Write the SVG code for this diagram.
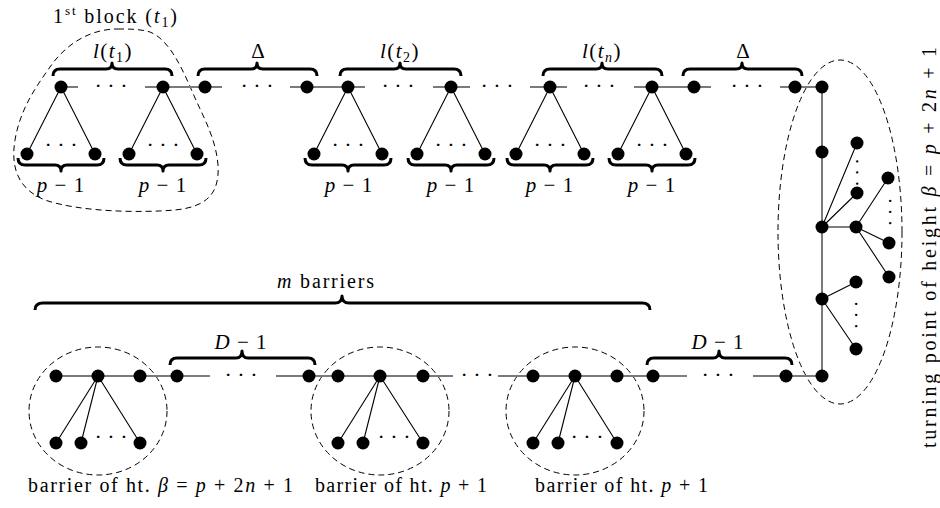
<svg xmlns="http://www.w3.org/2000/svg" width="940" height="508" viewBox="0 0 940 508">
<rect width="940" height="508" fill="#fff"/>
<g id="dashed-outlines" stroke="#000" stroke-width="1" fill="none" stroke-dasharray="6 4">
<path d="M120,29 C90,28 65,45 50,67 C35,88 20,110 15,140 C10,170 20,190 45,200 C80,212 140,213 175,210 C205,207 220,195 218,165 C216,140 205,120 195,98 C183,70 170,40 150,32 C140,29 130,29 120,29 Z"/>
<ellipse cx="840" cy="232" rx="62" ry="172"/>
<ellipse cx="98" cy="411" rx="69" ry="64"/>
<ellipse cx="380" cy="411" rx="69" ry="64"/>
<ellipse cx="575" cy="411" rx="69" ry="64"/>
</g>
<g id="connectors" fill="none">
<path stroke="#7a7a7a" stroke-width="2" d="M61,87H78 M145,87H222 M290,87H365 M433,87H470 M530,87H567 M634,87H711 M780,87H822 M822,87V376 M56,376H177 M276,376H453 M498,376H653 M753,376H822"/>
<g stroke="#000" stroke-width="1.1">
<path d="M177,376H210 M653,376H687"/>
<path d="M61,87L27,154M61,87L95,154 M163,87L129,154M163,87L197,154 M348,87L314,154M348,87L382,154 M451,87L417,154M451,87L485,154 M550,87L516,154M550,87L584,154 M652,87L618,154M652,87L686,154"/>
<path d="M98,376L56,443M98,376L81,443M98,376L140,443 M380,376L338,443M380,376L363,443M380,376L423,443 M575,376L533,443M575,376L558,443M575,376L617,443"/>
<path d="M822,227L857,143M822,227L857,193M822,227H856 M856,227L888,178M856,227L889,243M856,227L889,277 M822,299L856,282M822,299L856,349"/>
</g>
</g>
<g id="braces" stroke="#000" stroke-width="3" fill="none" stroke-linejoin="round">
<path d="M53,76Q53,69 60,69L106,69Q112,69 112,63Q112,69 118,69L165,69Q172,69 172,76"/>
<path d="M198,76Q198,69 205,69L251,69Q257,69 257,63Q257,69 263,69L310,69Q317,69 317,76"/>
<path d="M340,76Q340,69 347,69L394,69Q400,69 400,63Q400,69 406,69L454,69Q461,69 461,76"/>
<path d="M543,76Q543,69 550,69L596,69Q602,69 602,63Q602,69 608,69L655,69Q662,69 662,76"/>
<path d="M683,76Q683,69 690,69L736,69Q742,69 742,63Q742,69 748,69L795,69Q802,69 802,76"/>
<path d="M18,158Q18,165 25,165L55,165Q61,165 61,171Q61,165 67,165L97,165Q104,165 104,158"/>
<path d="M120,158Q120,165 127,165L157,165Q163,165 163,171Q163,165 169,165L199,165Q206,165 206,158"/>
<path d="M305,158Q305,165 312,165L342,165Q348,165 348,171Q348,165 354,165L384,165Q391,165 391,158"/>
<path d="M408,158Q408,165 415,165L445,165Q451,165 451,171Q451,165 457,165L487,165Q494,165 494,158"/>
<path d="M507,158Q507,165 514,165L544,165Q550,165 550,171Q550,165 556,165L586,165Q593,165 593,158"/>
<path d="M609,158Q609,165 616,165L646,165Q652,165 652,171Q652,165 658,165L688,165Q695,165 695,158"/>
<path d="M170,365Q170,358 177,358L236,358Q242,358 242,351Q242,358 248,358L308,358Q315,358 315,365"/>
<path d="M647,365Q647,358 654,358L713,358Q719,358 719,351Q719,358 725,358L785,358Q792,358 792,365"/>
<path d="M35,310Q35,303 43,303L335,303Q342,303 342,296Q342,303 349,303L642,303Q650,303 650,310"/>
</g>
<g id="nodes" fill="#000">
<g id="top-a1"><circle cx="61" cy="87" r="6.5"/></g>
<g id="top-a2"><circle cx="163" cy="87" r="6.5"/></g>
<g id="top-d1"><circle cx="205" cy="87" r="6.5"/></g>
<g id="top-d2"><circle cx="307" cy="87" r="6.5"/></g>
<g id="top-b1"><circle cx="348" cy="87" r="6.5"/></g>
<g id="top-b2"><circle cx="451" cy="87" r="6.5"/></g>
<g id="top-c1"><circle cx="550" cy="87" r="6.5"/></g>
<g id="top-c2"><circle cx="652" cy="87" r="6.5"/></g>
<g id="top-e1"><circle cx="694" cy="87" r="6.5"/></g>
<g id="top-e2"><circle cx="795" cy="87" r="6.5"/></g>
<g id="leaf-a1l"><circle cx="27" cy="154" r="6.5"/></g>
<g id="leaf-a1r"><circle cx="95" cy="154" r="6.5"/></g>
<g id="leaf-a2l"><circle cx="129" cy="154" r="6.5"/></g>
<g id="leaf-a2r"><circle cx="197" cy="154" r="6.5"/></g>
<g id="leaf-b1l"><circle cx="314" cy="154" r="6.5"/></g>
<g id="leaf-b1r"><circle cx="382" cy="154" r="6.5"/></g>
<g id="leaf-b2l"><circle cx="417" cy="154" r="6.5"/></g>
<g id="leaf-b2r"><circle cx="485" cy="154" r="6.5"/></g>
<g id="leaf-c1l"><circle cx="516" cy="154" r="6.5"/></g>
<g id="leaf-c1r"><circle cx="584" cy="154" r="6.5"/></g>
<g id="leaf-c2l"><circle cx="618" cy="154" r="6.5"/></g>
<g id="leaf-c2r"><circle cx="686" cy="154" r="6.5"/></g>
<g id="tp-0"><circle cx="822" cy="87" r="6.5"/></g>
<g id="tp-1"><circle cx="822" cy="152" r="6.5"/></g>
<g id="tp-2"><circle cx="822" cy="227" r="6.5"/></g>
<g id="tp-3"><circle cx="822" cy="299" r="6.5"/></g>
<g id="tp-4"><circle cx="822" cy="376" r="6.5"/></g>
<g id="tp-2a"><circle cx="857" cy="143" r="6.5"/></g>
<g id="tp-2b"><circle cx="857" cy="193" r="6.5"/></g>
<g id="tp-s"><circle cx="856" cy="227" r="6.5"/></g>
<g id="tp-sa"><circle cx="888" cy="178" r="6.5"/></g>
<g id="tp-sb"><circle cx="889" cy="243" r="6.5"/></g>
<g id="tp-sc"><circle cx="889" cy="277" r="6.5"/></g>
<g id="tp-3a"><circle cx="856" cy="282" r="6.5"/></g>
<g id="tp-3b"><circle cx="856" cy="349" r="6.5"/></g>
<g id="bar1-l"><circle cx="56" cy="376" r="6.5"/></g>
<g id="bar1-c"><circle cx="98" cy="376" r="6.5"/></g>
<g id="bar1-r"><circle cx="140" cy="376" r="6.5"/></g>
<g id="bar1-x"><circle cx="56" cy="443" r="6.5"/></g>
<g id="bar1-y"><circle cx="81" cy="443" r="6.5"/></g>
<g id="bar1-z"><circle cx="140" cy="443" r="6.5"/></g>
<g id="path1-s"><circle cx="177" cy="376" r="6.5"/></g>
<g id="path1-e"><circle cx="309" cy="376" r="6.5"/></g>
<g id="bar2-l"><circle cx="338" cy="376" r="6.5"/></g>
<g id="bar2-c"><circle cx="380" cy="376" r="6.5"/></g>
<g id="bar2-r"><circle cx="423" cy="376" r="6.5"/></g>
<g id="bar2-x"><circle cx="338" cy="443" r="6.5"/></g>
<g id="bar2-y"><circle cx="363" cy="443" r="6.5"/></g>
<g id="bar2-z"><circle cx="423" cy="443" r="6.5"/></g>
<g id="bar3-l"><circle cx="533" cy="376" r="6.5"/></g>
<g id="bar3-c"><circle cx="575" cy="376" r="6.5"/></g>
<g id="bar3-r"><circle cx="617" cy="376" r="6.5"/></g>
<g id="bar3-x"><circle cx="533" cy="443" r="6.5"/></g>
<g id="bar3-y"><circle cx="558" cy="443" r="6.5"/></g>
<g id="bar3-z"><circle cx="617" cy="443" r="6.5"/></g>
<g id="path2-s"><circle cx="653" cy="376" r="6.5"/></g>
<g id="path2-e"><circle cx="786" cy="376" r="6.5"/></g>
</g>
<g id="dotrows" text-anchor="middle" fill="#000">
<text x="111" y="93" font-family="Liberation Serif" font-size="22">· · ·</text>
<text x="257" y="93" font-family="Liberation Serif" font-size="22">· · ·</text>
<text x="398" y="93" font-family="Liberation Serif" font-size="22">· · ·</text>
<text x="497" y="93" font-family="Liberation Serif" font-size="22">· · ·</text>
<text x="599" y="93" font-family="Liberation Serif" font-size="22">· · ·</text>
<text x="747" y="93" font-family="Liberation Serif" font-size="22">· · ·</text>
<text x="61" y="152" font-family="Liberation Serif" font-size="22">· · ·</text>
<text x="163" y="152" font-family="Liberation Serif" font-size="22">· · ·</text>
<text x="348" y="152" font-family="Liberation Serif" font-size="22">· · ·</text>
<text x="451" y="152" font-family="Liberation Serif" font-size="22">· · ·</text>
<text x="550" y="152" font-family="Liberation Serif" font-size="22">· · ·</text>
<text x="652" y="152" font-family="Liberation Serif" font-size="22">· · ·</text>
<text x="241" y="382" font-family="Liberation Serif" font-size="22">· · ·</text>
<text x="477" y="382" font-family="Liberation Serif" font-size="22">· · ·</text>
<text x="718" y="382" font-family="Liberation Serif" font-size="22">· · ·</text>
<text x="111" y="444" font-family="Liberation Serif" font-size="22">· · ·</text>
<text x="394" y="444" font-family="Liberation Serif" font-size="22">· · ·</text>
<text x="587" y="444" font-family="Liberation Serif" font-size="22">· · ·</text>
<text transform="translate(851,172.5) rotate(90)" font-family="Liberation Serif" font-size="19">· · ·</text>
<text transform="translate(884,212) rotate(90)" font-family="Liberation Serif" font-size="19">· · ·</text>
<text transform="translate(850,315) rotate(90)" font-family="Liberation Serif" font-size="19">· · ·</text>
</g>
<g id="captions" fill="#000">
<text x="53" y="23" font-family="Liberation Serif" font-size="20" textLength="124" lengthAdjust="spacing">1<tspan font-size="13" dy="-8">st</tspan><tspan dy="8"> block (</tspan><tspan font-style="italic">t</tspan><tspan font-size="14" dy="4">1</tspan><tspan dy="-4">)</tspan></text>
<text x="113" y="58" text-anchor="middle" font-family="Liberation Serif" font-size="21" letter-spacing="1.5"><tspan font-style="italic">l</tspan>(<tspan font-style="italic">t</tspan><tspan font-size="14" dy="4">1</tspan><tspan dy="-4">)</tspan></text>
<text x="400" y="58" text-anchor="middle" font-family="Liberation Serif" font-size="21" letter-spacing="1.5"><tspan font-style="italic">l</tspan>(<tspan font-style="italic">t</tspan><tspan font-size="14" dy="4">2</tspan><tspan dy="-4">)</tspan></text>
<text x="602" y="58" text-anchor="middle" font-family="Liberation Serif" font-size="21" letter-spacing="1.5"><tspan font-style="italic">l</tspan>(<tspan font-style="italic">t</tspan><tspan font-style="italic" font-size="14" dy="4">n</tspan><tspan dy="-4">)</tspan></text>
<text x="258" y="58" text-anchor="middle" font-family="Liberation Serif" font-size="21">Δ</text>
<text x="743" y="58" text-anchor="middle" font-family="Liberation Serif" font-size="21">Δ</text>
<text x="61" y="192" text-anchor="middle" font-family="Liberation Serif" font-size="21" letter-spacing="1"><tspan font-style="italic">p</tspan> − 1</text>
<text x="163" y="192" text-anchor="middle" font-family="Liberation Serif" font-size="21" letter-spacing="1"><tspan font-style="italic">p</tspan> − 1</text>
<text x="349" y="192" text-anchor="middle" font-family="Liberation Serif" font-size="21" letter-spacing="1"><tspan font-style="italic">p</tspan> − 1</text>
<text x="451" y="192" text-anchor="middle" font-family="Liberation Serif" font-size="21" letter-spacing="1"><tspan font-style="italic">p</tspan> − 1</text>
<text x="550" y="192" text-anchor="middle" font-family="Liberation Serif" font-size="21" letter-spacing="1"><tspan font-style="italic">p</tspan> − 1</text>
<text x="652" y="192" text-anchor="middle" font-family="Liberation Serif" font-size="21" letter-spacing="1"><tspan font-style="italic">p</tspan> − 1</text>
<text x="241" y="349" text-anchor="middle" font-family="Liberation Serif" font-size="21" letter-spacing="1"><tspan font-style="italic">D</tspan> − 1</text>
<text x="718" y="349" text-anchor="middle" font-family="Liberation Serif" font-size="21" letter-spacing="1"><tspan font-style="italic">D</tspan> − 1</text>
<text x="277" y="288" font-family="Liberation Serif" font-size="20" textLength="97" lengthAdjust="spacing"><tspan font-style="italic">m</tspan> barriers</text>
<text x="28" y="492" font-family="Liberation Serif" font-size="20" textLength="265" lengthAdjust="spacing">barrier of ht. <tspan font-style="italic">β</tspan> = <tspan font-style="italic">p</tspan> + 2<tspan font-style="italic">n</tspan> + 1</text>
<text x="315" y="492" font-family="Liberation Serif" font-size="20" textLength="172" lengthAdjust="spacing">barrier of ht. <tspan font-style="italic">p</tspan> + 1</text>
<text x="535" y="492" font-family="Liberation Serif" font-size="20" textLength="173" lengthAdjust="spacing">barrier of ht. <tspan font-style="italic">p</tspan> + 1</text>
<text transform="translate(936,448) rotate(-90)" font-family="Liberation Serif" font-size="20" textLength="401" lengthAdjust="spacing">turning point of height <tspan font-style="italic">β</tspan> = <tspan font-style="italic">p</tspan> + 2<tspan font-style="italic">n</tspan> + 1</text>
</g>
</svg>
